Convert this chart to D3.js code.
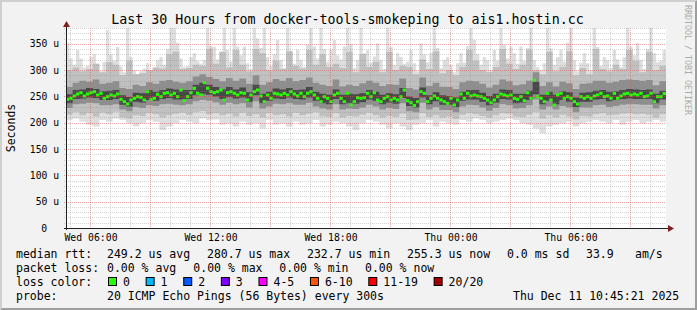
<!DOCTYPE html>
<html>
<head>
<meta charset="utf-8">
<title>smokeping</title>
<script src="https://cdn.jsdelivr.net/npm/d3@7/dist/d3.min.js"></script>
<style>
  html, body { margin: 0; padding: 0; background: #f2f2f2; }
  svg { display: block; }
  text { font-family: "DejaVu Sans Mono", monospace; fill: #000; }
</style>
</head>
<body>
<svg id="smoke" width="697" height="310"></svg>
<script>
// median rtt, one value per 10 minute step (microseconds)
const medianRtt = [
  244.5,246.4,250.8,254.6,257.1,250.8,254.6,257.1,259.0,252.7,
  255.9,246.4,249.5,252.7,250.8,254.6,244.5,240.0,235.6,243.2,
  246.4,249.5,248.3,243.2,259.0,244.5,246.4,254.0,249.5,255.9,
  257.1,252.7,255.9,249.5,262.2,241.9,249.5,257.1,265.4,255.9,
  252.7,276.1,265.4,259.0,257.1,
  259.0,262.2,243.2,257.1,259.0,255.9,252.7,257.1,255.9,243.2,
  252.7,259.0,262.2,250.8,240.0,252.7,246.4,255.9,254.6,252.7,
  255.9,252.7,259.0,254.6,250.8,255.9,249.5,255.9,259.0,252.7,
  246.4,240.0,249.5,246.4,240.0,252.7,255.9,246.4,240.0,255.9,
  233.7,240.0,247.6,246.4,247.6,
  255.9,249.5,257.1,243.2,240.0,246.4,249.5,243.2,246.4,243.2,
  249.5,262.2,241.9,238.1,232.7,240.0,259.0,255.9,240.0,246.4,
  250.8,246.4,243.2,240.0,236.9,246.4,233.7,243.2,254.6,246.4,
  255.9,250.8,252.7,250.8,249.5,246.4,243.2,238.1,243.2,249.5,
  254.6,252.7,250.8,252.7,246.4,
  244.5,249.5,241.9,257.1,246.4,280.7,249.5,246.4,240.0,255.9,
  243.2,233.7,252.7,255.9,246.4,249.5,246.4,240.0,235.6,249.5,
  246.4,249.5,246.4,250.8,252.7,255.9,249.5,250.8,246.4,255.9,
  246.4,250.8,254.6,255.9,252.7,254.6,252.7,255.9,249.5,250.8,
  255.9,240.0,249.5,249.5,255.3
];

// slowest ping, one value per 10 minute step (microseconds, clipped at the top)
const smokeMax = [
  351,322,310,338,322,305,308,325,330,312,298,316,376,330,318,344,307,296,380,325,
  300,292,298,303,313,300,305,319,325,310,340,380,380,352,322,306,308,325,332,318,
  312,319,380,346,344,320,335,380,338,316,380,345,328,345,313,302,380,360,342,380,
  325,308,330,357,319,304,380,336,312,338,319,306,348,380,345,322,380,340,316,338,
  357,328,320,345,380,350,304,319,380,332,338,314,326,351,319,302,380,344,310,332,
  325,312,316,338,313,298,351,330,315,332,380,342,304,319,325,310,296,313,332,314,
  346,380,357,331,310,325,319,300,338,318,380,348,322,345,332,312,345,318,342,380,
  319,306,300,313,380,341,310,325,338,316,352,380,319,298,314,332,313,300,380,344,
  308,325,319,304,338,320,306,325,380,345,328,351,319,302,340,380,332,315,318,338
];
// sorted ping spread, one value per 20 minute block (microseconds)
const smokeP90 = [
  300,305,298,302,312,296,315,310,290,318,292,294,300,305,303,330,335,302,304,310,
  308,340,312,335,305,338,310,298,340,332,300,318,302,336,308,303,338,310,330,306,
  312,304,335,296,330,306,316,296,335,300,308,306,292,320,302,336,294,300,290,306,
  338,318,300,296,306,340,312,302,310,338,300,292,335,298,306,336,290,304,292,340,
  302,298,310,302,338,318,296,335,300,308
];
const smokeP75 = [
  268,276,280,278,282,274,276,279,266,264,272,270,277,274,280,281,278,276,279,288,
  292,287,283,279,285,280,284,274,290,272,277,283,280,285,279,281,286,276,272,270,
  282,269,272,270,275,280,276,270,273,272,284,266,263,286,270,276,268,268,264,277,
  280,279,274,267,272,282,279,271,273,280,296,270,277,269,278,275,264,274,275,280,
  280,276,278,281,282,281,280,281,271,279
];
const smokeP60 = [
  254,262,263,266,264,260,261,262,252,249,257,256,262,259,262,265,263,262,262,272,
  276,272,268,263,268,263,267,258,272,255,259,265,263,266,262,263,268,259,255,253,
  263,253,255,254,256,262,259,253,256,254,266,250,247,267,252,258,252,251,248,259,
  262,262,257,251,255,263,262,255,255,261,278,253,259,253,260,258,248,257,258,261,
  262,259,260,262,264,263,262,263,255,261
];
const smokeP40 = [
  237,245,246,248,247,243,243,245,234,231,240,238,243,242,245,247,244,244,245,252,
  255,253,250,245,249,246,248,240,252,237,242,246,245,248,245,244,248,242,237,235,
  245,235,237,236,239,244,242,235,238,236,247,232,229,248,235,241,234,234,230,242,
  244,244,240,233,238,245,244,237,238,243,254,235,242,235,243,240,230,240,240,244,
  245,241,243,245,246,245,245,245,237,244
];
const smokeP25 = [
  228,235,236,238,237,233,233,235,225,222,230,228,233,232,235,236,234,233,235,241,
  243,242,239,234,238,235,237,229,241,227,231,236,235,237,234,234,238,231,227,225,
  235,225,227,226,229,234,231,225,228,226,237,222,220,238,225,230,224,224,220,231,
  234,233,229,223,228,235,233,227,228,233,244,225,231,225,232,229,220,229,229,233,
  234,230,232,234,235,235,234,234,227,233
];
const smokeP10 = [
  215,220,214,218,212,219,216,221,210,208,214,213,218,216,210,214,217,219,215,220,
  222,216,218,214,217,212,219,213,216,210,218,214,216,212,219,214,217,220,212,211,
  218,210,213,212,215,219,214,210,213,211,217,205,206,218,211,214,210,212,207,215,
  218,216,213,210,214,218,217,212,211,215,220,208,214,210,215,212,206,213,212,216,
  218,214,215,217,218,216,217,215,210,216
];
const smokeMin = [
  205,208,202,196,193,205,202,208,205,199,193,199,205,202,186,193,199,205,202,199,
  208,205,206,196,199,193,202,196,199,189,205,196,199,193,202,196,199,205,193,196,
  202,199,193,186,199,205,202,196,189,199,193,186,196,199,205,193,202,199,196,205,
  202,208,205,199,202,205,208,205,199,196,189,180,193,196,199,202,193,199,202,205,
  202,199,205,196,202,205,199,202,205,202
];

const yTickValues = [0, 50, 100, 150, 200, 250, 300, 350];
const lossLabels = ['0', '1', '2', '3', '4-5', '6-10', '11-19', '20/20'];
const lossColors = ['#26ff00', '#00b8ff', '#0059ff', '#7e00ff', '#ff00ff', '#ff5500', '#ff0000', '#a10000'];
const rttStats = ['249.2 us avg', '280.7 us max', '232.7 us min', '255.3 us now', '0.0 ms sd', '33.9', 'am/s'];
const lossStats = ['0.00 % avg', '0.00 % max', '0.00 % min', '0.00 % now'];
const probeText = '20 ICMP Echo Pings (56 Bytes) every 300s';
const stampText = 'Thu Dec 11 10:45:21 2025';
const titleText = 'Last 30 Hours from docker-tools-smokeping to ais1.hostin.cc';

const smokeGraph = (function () {
  const sg = {};

  const W = 697, H = 310;
  const plot = {left: 66, top: 28, width: 600, height: 200};
  const spanMinutes = 30 * 60;
  const startTime = new Date(Date.UTC(2025, 11, 10, 4, 45, 21));
  const endTime = new Date(Date.UTC(2025, 11, 11, 10, 45, 21));
  const at = (i, minutes) => new Date(startTime.getTime() + i * minutes * 60000);

  // outer band first, darker towards the median
  const bands = [
    {lo: smokeMin, hi: smokeMax, color: '#dedede'},
    {lo: smokeP10, hi: smokeP90, color: '#c0c0c0'},
    {lo: smokeP25, hi: smokeP75, color: '#8e8e8e'},
    {lo: smokeP40, hi: smokeP60, color: '#484848'}
  ];

  // both edges of a band may come at different resolutions
  const bandPath = function (x, y, lo, hi) {
    const edge = arr => {
      const step = spanMinutes / arr.length;
      const pts = arr.map((v, i) => [x(at(i, step)), y(v)]);
      pts.push([x(endTime), y(arr[arr.length - 1])]);
      return pts;
    };
    const top = d3.line().curve(d3.curveStepAfter)(edge(hi));
    // bottom edge walked backwards: step-before keeps the steps aligned
    const back = d3.line().curve(d3.curveStepBefore)(edge(lo).reverse());
    return top + 'L' + back.slice(1) + 'Z';
  };

  sg.draw = function (svgId) {
    const svg = d3.select(`#${svgId}`);

    const x = d3.scaleUtc()
      .domain([startTime, endTime])
      .range([plot.left, plot.left + plot.width]);
    const y = d3.scaleLinear()
      .domain([0, 380])
      .range([plot.top + plot.height, plot.top]);

    // background and 3d border
    svg.append('rect').attr('width', W).attr('height', H).attr('fill', '#f2f2f2');
    svg.append('path')
      .attr('d', `M0,0H${W}L${W - 2},2H2V${H - 2}L0,${H}Z`)
      .attr('fill', '#cfcfcf');
    svg.append('path')
      .attr('d', `M${W},0V${H}H0L2,${H - 2}H${W - 2}V2Z`)
      .attr('fill', '#9e9e9e');

    svg.append('rect')
      .attr('x', plot.left).attr('y', plot.top)
      .attr('width', plot.width).attr('height', plot.height)
      .attr('fill', '#ffffff');

    svg.append('clipPath').attr('id', 'plotClip')
      .append('rect')
      .attr('x', plot.left).attr('y', plot.top)
      .attr('width', plot.width).attr('height', plot.height);

    const viewPort = svg.append('g').attr('clip-path', 'url(#plotClip)');

    bands.forEach(b => {
      viewPort.append('path')
        .attr('d', bandPath(x, y, b.lo, b.hi))
        .attr('fill', b.color);
    });

    // median, coloured by loss (all 0 here)
    viewPort.selectAll('rect.median')
      .data(medianRtt)
      .enter()
      .append('rect')
        .attr('class', 'median')
        .attr('x', (d, i) => x(at(i, 10)))
        .attr('width', (d, i) => x(at(i + 1, 10)) - x(at(i, 10)))
        .attr('y', d => y(d) - 1.5)
        .attr('height', 3)
        .attr('fill', lossColors[0]);

    // grid on top of the graph, like rrdtool
    const grid = svg.append('g').attr('fill', 'none').attr('shape-rendering', 'crispEdges');
    const yMinor = d3.range(10, 381, 10).filter(v => v % 50 !== 0);
    const yMajor = d3.range(50, 381, 50);
    const hours = d3.utcHour.every(1).range(startTime, endTime);
    const xMinor = hours.filter(t => t.getUTCHours() % 3 !== 0);
    const xMajor = hours.filter(t => t.getUTCHours() % 3 === 0);

    const hLine = (vals, color) => grid.selectAll(null)
      .data(vals).enter().append('line')
        .attr('x1', plot.left - 2).attr('x2', plot.left + plot.width)
        .attr('y1', d => Math.round(y(d)) + 0.5).attr('y2', d => Math.round(y(d)) + 0.5)
        .attr('stroke', color).attr('stroke-dasharray', '1,1');
    const vLine = (vals, color) => grid.selectAll(null)
      .data(vals).enter().append('line')
        .attr('y1', plot.top).attr('y2', plot.top + plot.height + 2)
        .attr('x1', d => Math.floor(x(d)) + 0.5).attr('x2', d => Math.floor(x(d)) + 0.5)
        .attr('stroke', color).attr('stroke-dasharray', '1,1');

    hLine(yMinor, 'rgba(143,143,143,0.38)');
    vLine(xMinor, 'rgba(143,143,143,0.38)');
    hLine(yMajor, 'rgba(222,79,79,0.5)');
    vLine(xMajor, 'rgba(222,79,79,0.5)');

    // axes lines and arrows
    const axisY = plot.top + plot.height + 0.5;
    svg.append('line')
      .attr('x1', plot.left - 2).attr('x2', plot.left + plot.width + 4)
      .attr('y1', axisY).attr('y2', axisY)
      .attr('stroke', '#1f1f1f');
    svg.append('line')
      .attr('x1', plot.left + 0.5).attr('x2', plot.left + 0.5)
      .attr('y1', plot.top + plot.height + 2).attr('y2', plot.top - 5)
      .attr('stroke', '#1f1f1f');
    svg.append('path')
      .attr('d', `M${plot.left + 0.5},${plot.top - 7}l3.5,6h-7Z`)
      .attr('fill', '#801f1f');
    svg.append('path')
      .attr('d', `M${plot.left + plot.width + 8},${axisY}l-6,-3.5v7Z`)
      .attr('fill', '#801f1f');

    // tick labels
    const xAxis = d3.axisBottom(x)
      .ticks(d3.utcHour.every(6))
      .tickFormat(d3.utcFormat('%a %H:%M'))
      .tickSize(0)
      .tickPadding(6);
    const xAxisG = svg.append('g')
      .attr('transform', `translate(0, ${plot.top + plot.height})`)
      .call(xAxis);
    xAxisG.select('.domain').remove();
    xAxisG.selectAll('text')
      .attr('font-size', '9.8px')
      .attr('font-family', '"DejaVu Sans Mono", monospace')
      .attr('x', function (d) { return Math.floor(x(d)) + 0.5 - x(d); });

    const yAxis = d3.axisLeft(y)
      .tickValues(yTickValues)
      .tickFormat(d => d === 0 ? '0' : `${d} u`)
      .tickSize(0)
      .tickPadding(7);
    const yAxisG = svg.append('g')
      .attr('transform', `translate(${plot.left}, 0)`)
      .call(yAxis);
    yAxisG.select('.domain').remove();
    yAxisG.selectAll('text')
      .attr('font-size', '9.7px')
      .attr('font-family', '"DejaVu Sans Mono", monospace')
      .attr('x', d => d === 0 ? -19 : -7);

    // titles
    svg.append('text')
      .attr('x', 347.5).attr('y', 24)
      .attr('text-anchor', 'middle')
      .attr('font-size', '13.3px')
      .text(titleText);

    svg.append('text')
      .attr('transform', `translate(15, ${plot.top + plot.height / 2}) rotate(-90)`)
      .attr('text-anchor', 'middle')
      .attr('font-size', '11.5px')
      .text('Seconds');

    svg.append('text')
      .attr('transform', 'translate(684.5, 5) rotate(90)')
      .attr('font-size', '8.3px')
      .style('fill', '#aaaaaa')
      .text('RRDTOOL / TOBI OETIKER');

    // legend
    const legend = svg.append('g').attr('font-size', '11.5px');
    const put = (str, lx, ly) => legend.append('text').attr('x', lx).attr('y', ly).text(str);

    put('median rtt:', 16, 258);
    [107, 207, 307, 407, 507, 586, 635].forEach((lx, i) => put(rttStats[i], lx, 258));

    put('packet loss:', 16, 272);
    [107, 193.3, 279.3, 365].forEach((lx, i) => put(lossStats[i], lx, 272));

    put('loss color:', 16, 286);
    let cx = 108.5;
    lossLabels.forEach((lbl, i) => {
      legend.append('rect')
        .attr('x', cx).attr('y', 277.5)
        .attr('width', 8).attr('height', 8)
        .attr('fill', lossColors[i])
        .attr('stroke', '#000');
      put(lbl, cx + 14.5, 286);
      cx += 14.5 + lbl.length * 6.92 + 16.2;
    });

    put('probe:', 16, 300);
    put(probeText, 107, 300);
    put(stampText, 513, 300);

    return svg;
  };

  return sg;
})();

smokeGraph.draw('smoke');
</script>
</body>
</html>
